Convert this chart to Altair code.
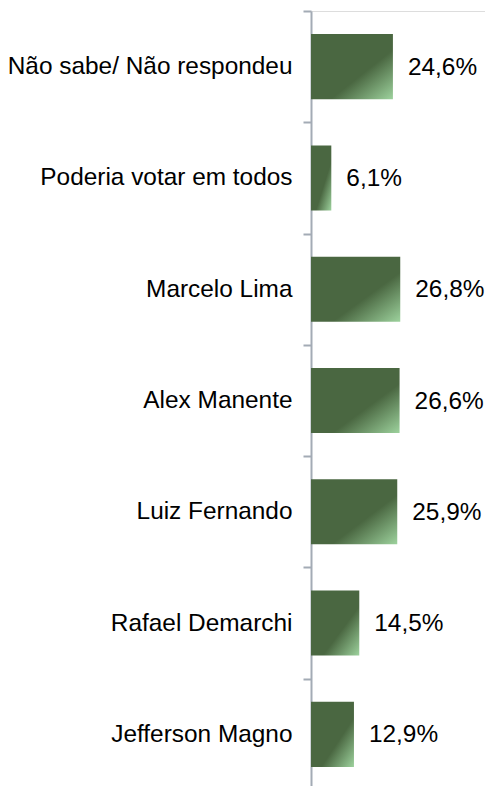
import altair as alt
import pandas as pd

categories = [
    "Não sabe/ Não respondeu",
    "Poderia votar em todos",
    "Marcelo Lima",
    "Alex Manente",
    "Luiz Fernando",
    "Rafael Demarchi",
    "Jefferson Magno",
]
values = [24.6, 6.1, 26.8, 26.6, 25.9, 14.5, 12.9]
labels = [f"{v:.1f}".replace(".", ",") + "%" for v in values]

df = pd.DataFrame({"cat": categories, "val": values, "lab": labels})

FONT = "Liberation Sans"
FS = 24.4

y_enc = alt.Y(
    "cat:N",
    sort=categories,
    scale=alt.Scale(range=[0, 779], paddingInner=0, paddingOuter=0),
    axis=alt.Axis(
        title=None,
        tickBand="extent",
        tickSize=8,
        tickColor="#a3abb5",
        tickWidth=2,
        domainColor="#a3abb5",
        domainWidth=2,
        labelFont=FONT,
        labelFontSize=FS,
        labelColor="#000000",
        labelPadding=11,
        labelLimit=400,
        grid=False,
    ),
)
x_enc = alt.X(
    "val:Q",
    scale=alt.Scale(domain=[0, 52.25], nice=False, zero=True),
    axis=None,
)

grad = alt.Gradient(
    gradient="linear",
    x1=0, y1=0, x2=1, y2=1,
    stops=[
        alt.GradientStop(offset=0, color="#4a6741"),
        alt.GradientStop(offset=0.62, color="#4a6741"),
        alt.GradientStop(offset=1, color="#9dd29d"),
    ],
)

bars = alt.Chart(df).mark_bar(
    color=grad, cornerRadius=0, height=alt.RelativeBandSize(0.585)
).encode(y=y_enc, x=x_enc)
text = alt.Chart(df).mark_text(
    align="left", baseline="middle", dx=15, dy=1, font=FONT, fontSize=FS, color="#000000"
).encode(y=alt.Y("cat:N", sort=categories), x="val:Q", text="lab:N")

chart = (
    alt.layer(bars, text)
    .properties(
        width=174,
        height=775,
        autosize=alt.AutoSizeParams(type="none"),
        padding={"left": 311, "top": 11, "right": 0, "bottom": 0},
    )
    .configure_view(stroke=None)
    .configure(background="#ffffff")
)

chart.save("out.html", embed_options={"renderer": "svg", "actions": False})
